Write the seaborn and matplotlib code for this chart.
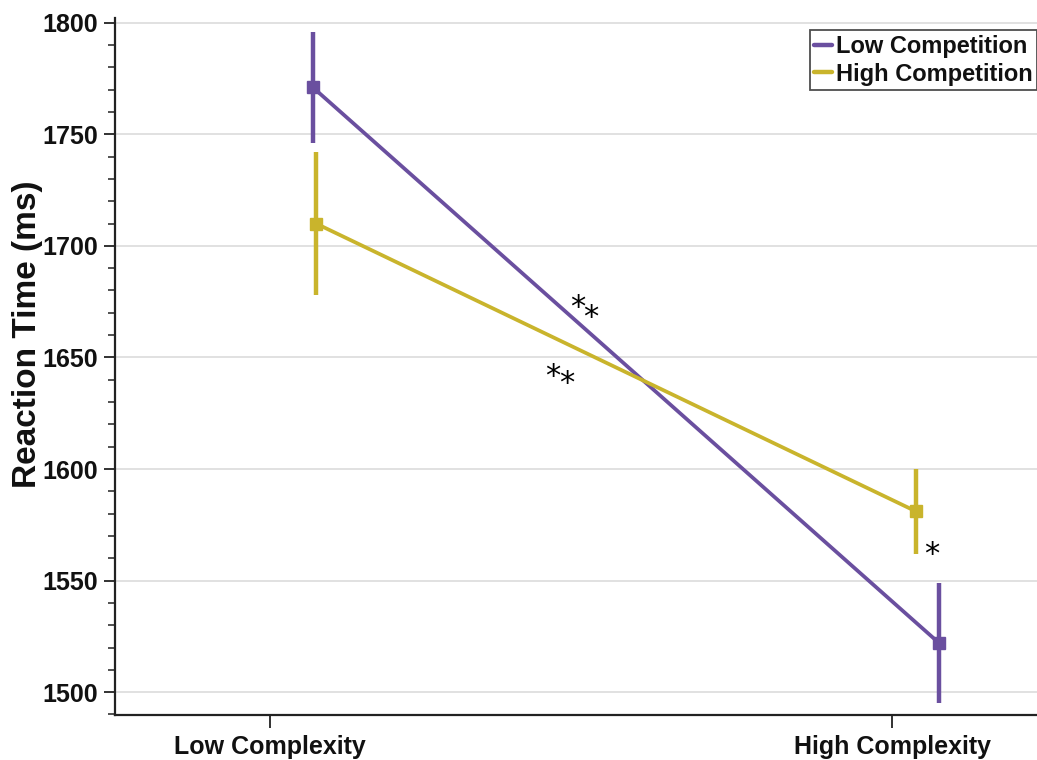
import numpy as np
import pandas as pd
import matplotlib
matplotlib.use("Agg")
import matplotlib.pyplot as plt
from matplotlib.ticker import MultipleLocator
import seaborn as sns

# Data: mean reaction time (ms) with error bar half-widths
complexity = ["Low Complexity", "High Complexity"]
groups = ["Low Competition", "High Competition"]
rt_low_competition = [1771, 1522]
rt_high_competition = [1710, 1581]
err_low_competition = [25, 27]
err_high_competition = [32, 19]

sns.set_theme(style="white")
plt.rcParams["font.family"] = ["Liberation Sans", "DejaVu Sans"]

palette = {"Low Competition": "#6a4f9f", "High Competition": "#c9b42c"}
# small horizontal shifts so the two series don't overlap at each condition
shift = {"Low Competition": [0.069, 0.0756], "High Competition": [0.074, 0.0386]}

rows = []
for g, means, errs in [("Low Competition", rt_low_competition, err_low_competition),
                       ("High Competition", rt_high_competition, err_high_competition)]:
    for i, c in enumerate(complexity):
        rows.append({"complexity": c, "group": g, "rt": means[i], "err": errs[i],
                     "x": i + shift[g][i]})
df = pd.DataFrame(rows)

fig = plt.figure(figsize=(10.37, 7.6), dpi=100)
ax = fig.add_axes([0.111, 0.059, 0.889, 0.917])

sns.lineplot(data=df, x="x", y="rt", hue="group", hue_order=groups, palette=palette,
             linewidth=2.7, ax=ax, legend=False, sort=False)
for g in groups:
    sub = df[df["group"] == g]
    ax.errorbar(sub["x"], sub["rt"], yerr=sub["err"], fmt="s", color=palette[g],
                markersize=8, elinewidth=3.2, capsize=0, zorder=3)

ax.set_xlim(-0.249, 1.233)
ax.set_ylim(1489.7, 1802)
ax.set_xticks(range(len(complexity)))
ax.set_xticklabels(complexity, fontsize=18, fontweight="bold")
ax.yaxis.set_major_locator(MultipleLocator(50))
ax.yaxis.set_minor_locator(MultipleLocator(10))
ax.tick_params(axis="y", which="major", direction="out", length=8, width=1.3,
               labelsize=18, pad=4, left=True, color="#222222", labelcolor="#111111")
ax.tick_params(axis="y", which="minor", direction="out", length=5, width=1.1,
               left=True, color="#222222")
ax.tick_params(axis="x", which="major", direction="out", length=9, width=1.3,
               pad=5, bottom=True, color="#222222", labelcolor="#111111")
for lbl in ax.get_yticklabels():
    lbl.set_fontweight("bold")

ax.grid(axis="y", which="major", color="#dcdcdc", linewidth=1.2)
ax.set_axisbelow(True)
for side in ["top", "right"]:
    ax.spines[side].set_visible(False)
for side in ["left", "bottom"]:
    ax.spines[side].set_color("#222222")
    ax.spines[side].set_linewidth(1.6)

ax.set_xlabel("")
ax.set_ylabel("Reaction Time (ms)", fontsize=24, fontweight="bold", color="#111111",
              va="center")
ax.yaxis.set_label_coords(-0.095, 0.547)

handles = [plt.Line2D([], [], color=palette[g], linewidth=3.2) for g in groups]
leg = ax.legend(handles, groups, loc="upper right", bbox_to_anchor=(1.0, 0.983),
                prop={"size": 17, "weight": "bold"}, frameon=True, fancybox=False,
                handlelength=0.75, handletextpad=0.15, borderpad=0.2, labelspacing=0.2,
                borderaxespad=0.0)
leg.get_frame().set_edgecolor("#222222")
leg.get_frame().set_linewidth(1.3)
for t in leg.get_texts():
    t.set_color("#111111")

# significance markers
star_kw = dict(fontsize=22, color="black", ha="center", va="center",
               family="DejaVu Sans")
ax.text(0.495, 1672.5, "*", **star_kw)
ax.text(0.516, 1668.0, "*", **star_kw)
ax.text(0.455, 1641.5, "*", **star_kw)
ax.text(0.4775, 1638.5, "*", **star_kw)
ax.text(1.064, 1561.5, "*", **star_kw)

fig.savefig("out.png", dpi=100)
